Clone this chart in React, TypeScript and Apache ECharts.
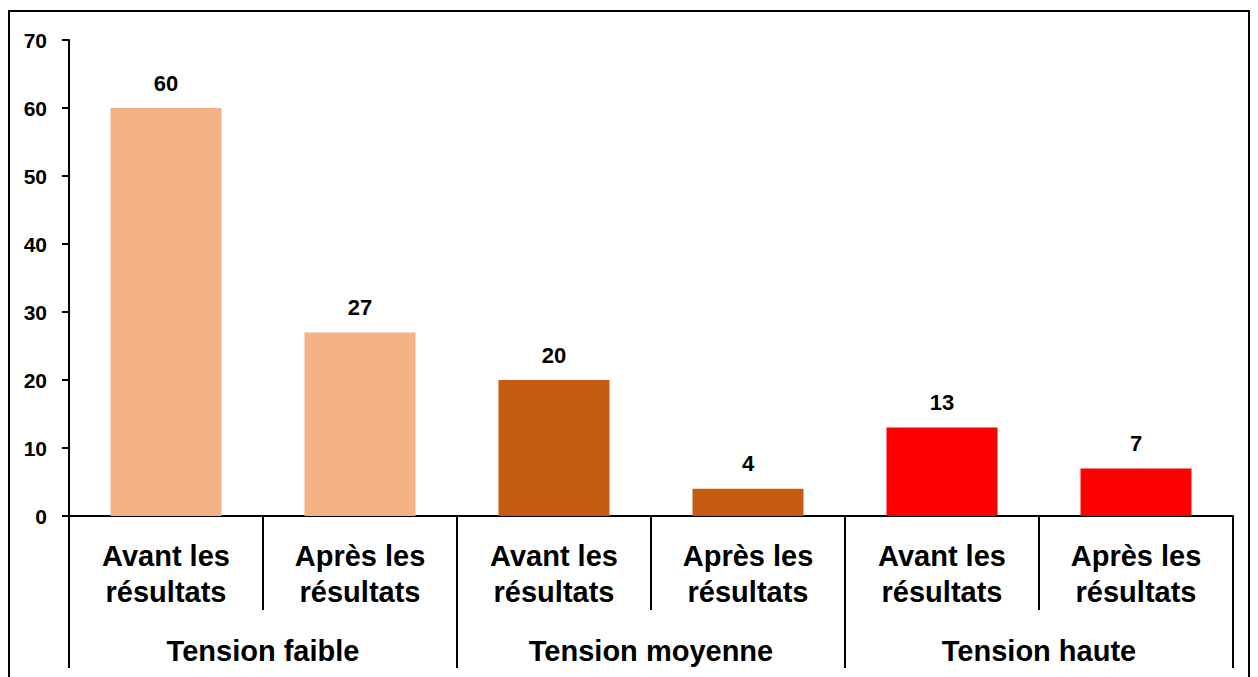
import React, { useEffect, useRef } from "react";
import * as echarts from "echarts";

const subCategories = [
  "Avant les\nrésultats",
  "Après les\nrésultats",
  "Avant les\nrésultats",
  "Après les\nrésultats",
  "Avant les\nrésultats",
  "Après les\nrésultats",
];
const groups = ["Tension faible", "Tension moyenne", "Tension haute"];
const values = [60, 27, 20, 4, 13, 7];
const barColors = ["#F4B183", "#F4B183", "#C55A11", "#C55A11", "#FF0000", "#FF0000"];
const yTicks = { min: 0, max: 70, interval: 10 };

const FONT = "'Liberation Sans Narrow', 'Arial Narrow', 'Liberation Sans', Arial, sans-serif";

export default function App() {
  const ref = useRef<HTMLDivElement>(null);
  useEffect(() => {
    const chart = echarts.init(ref.current!, null, { renderer: "svg" });
    chart.setOption({
      animation: false,
      backgroundColor: "#ffffff",
      textStyle: { fontFamily: FONT },
      graphic: [
        {
          type: "rect",
          shape: { x: 9, y: 11, width: 1240, height: 720 },
          style: { fill: "none", stroke: "#000", lineWidth: 2 },
          silent: true,
        },
      ],
      grid: { left: 69, right: 25, top: 40, bottom: 161, containLabel: false },
      xAxis: [
        {
          type: "category",
          data: subCategories,
          position: "bottom",
          axisLine: { show: true, lineStyle: { color: "#000", width: 2 } },
          axisTick: { show: true, length: 94, interval: 0, lineStyle: { color: "#000", width: 2 } },
          axisLabel: {
            interval: 0,
            margin: 22,
            color: "#000",
            fontFamily: FONT,
            fontWeight: "bold",
            fontSize: 29,
            lineHeight: 36,
          },
        },
        {
          type: "category",
          data: groups,
          position: "bottom",
          axisLine: { show: false },
          axisTick: { show: true, length: 152, interval: 0, lineStyle: { color: "#000", width: 2 } },
          axisLabel: {
            interval: 0,
            margin: 117,
            color: "#000",
            fontFamily: FONT,
            fontWeight: "bold",
            fontSize: 29,
            lineHeight: 36,
          },
        },
      ],
      yAxis: {
        type: "value",
        min: yTicks.min,
        max: yTicks.max,
        interval: yTicks.interval,
        splitLine: { show: false },
        axisLine: { show: true, lineStyle: { color: "#000", width: 2 } },
        axisTick: { show: true, length: 7, lineStyle: { color: "#000", width: 2 } },
        axisLabel: {
          margin: 22,
          color: "#000",
          fontFamily: FONT,
          fontWeight: "bold",
          fontSize: 21,
        },
      },
      series: [
        {
          type: "bar",
          xAxisIndex: 0,
          barWidth: 111,
          data: values.map((v, i) => ({ value: v, itemStyle: { color: barColors[i] } })),
          label: {
            show: true,
            position: "top",
            distance: 14,
            color: "#000",
            fontFamily: FONT,
            fontWeight: "bold",
            fontSize: 22,
          },
        },
      ],
    });
    return () => chart.dispose();
  }, []);
  return (
    <div
      ref={ref}
      style={{ position: "fixed", left: 0, top: 0, width: 1258, height: 677 }}
    />
  );
}
